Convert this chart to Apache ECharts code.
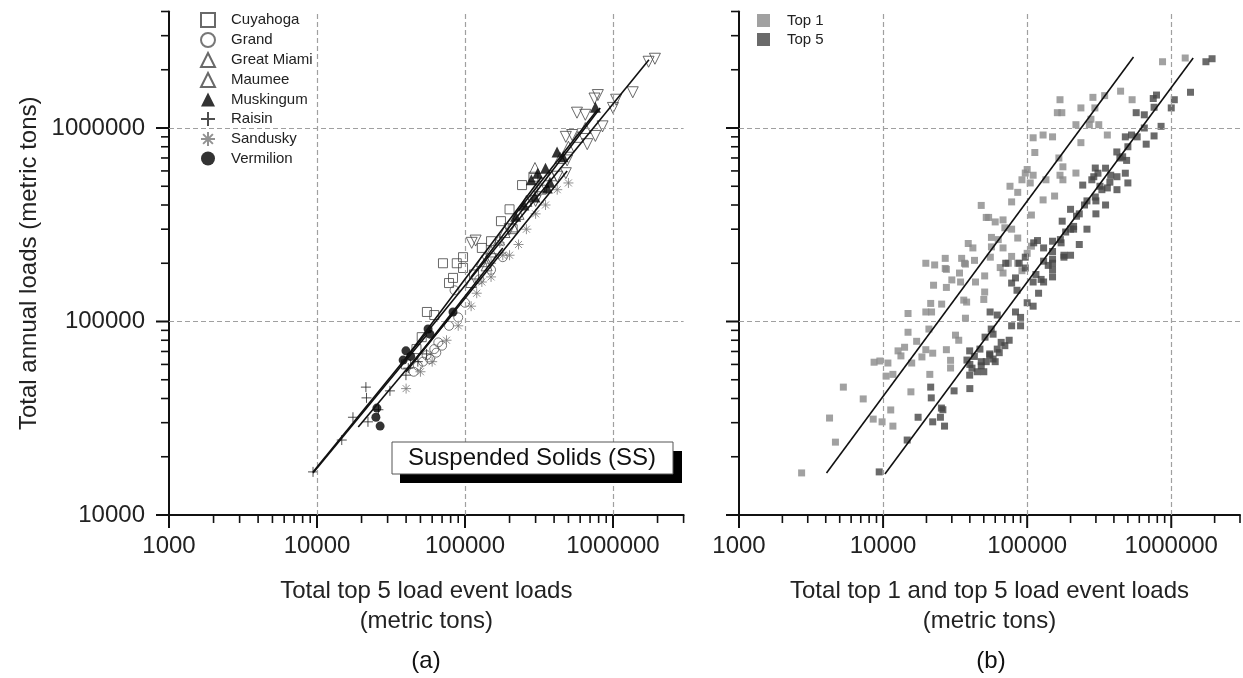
<!DOCTYPE html>
<html><head><meta charset="utf-8">
<script src="https://cdn.jsdelivr.net/npm/echarts@6/dist/echarts.min.js"></script>
<style>html,body{margin:0;padding:0;background:#fff}#c{width:1243px;height:678px}</style>
</head><body><div id="c"></div>
<script>
// ---------- data (x = total top-N event loads, y = total annual loads) ----------
const cuyahoga = [[40000,60000],[47000,72000],[51000,83000],[55300,112000],[62000,108000],[71000,200000],[78000,158000],[83000,168000],[88000,200000],[97000,189000],[97000,215000],[115000,175000],[130000,240000],[150000,260000],[175000,330000],[200000,380000],[243000,507000],[290000,560000],[330000,480000],[210000,300000]];
const grand = [[45000,55000],[48000,59000],[52000,62000],[55000,67000],[58000,64000],[62000,72000],[66000,78000],[70000,75000],[78000,95000],[85000,145000],[90000,105000],[100000,125000],[125000,165000],[150000,185000],[180000,215000],[64000,69000]];
const greatMiami = [[110000,160000],[130000,205000],[150000,230000],[170000,265000],[185000,290000],[210000,310000],[230000,360000],[260000,420000],[297000,621000],[320000,500000],[380000,570000],[440000,700000],[500000,800000],[580000,900000],[650000,1000000],[140000,195000]];
const maumee = [[111000,255000],[118000,262000],[150000,210000],[200000,300000],[300000,420000],[420000,560000],[480000,584000],[490000,680000],[480000,900000],[530000,920000],[571000,1200000],[650000,1170000],[670000,825000],[760000,910000],[850000,1020000],[750000,1420000],[790000,1480000],[1000000,1270000],[1050000,1400000],[1360000,1530000],[1740000,2200000],[1920000,2280000]];
const muskingum = [[220000,350000],[250000,400000],[281000,540000],[297000,440000],[310000,584000],[360000,490000],[375000,525000],[419000,752000],[460000,710000],[760000,1280000],[350000,620000]];
const raisin = [[9400,16700],[14700,24400],[17500,32000],[21400,45800],[21600,40300],[22100,30300],[26000,35000],[31100,43800],[39900,52800],[41400,57400],[48000,62000],[55000,68000]];
const sandusky = [[40000,45000],[50000,55000],[60000,62000],[75000,80000],[90000,95000],[110000,120000],[120000,140000],[130000,160000],[150000,170000],[150000,200000],[172000,255000],[180000,220000],[200000,220000],[230000,250000],[260000,300000],[300000,360000],[350000,400000],[420000,480000],[500000,520000]];
const vermilion = [[25000,32000],[25400,35700],[26700,28800],[38200,63200],[39900,70500],[43000,66000],[56300,91400],[58000,86000],[83000,112000]];

const top1 = [[2720,16500],[4670,23800],[4250,31700],[7280,39800],[5300,45800],[8540,31300],[9840,30300],[11300,34900],[11700,28800],[15600,43300],[10500,52200],[11700,53300],[8660,61600],[9500,62500],[10800,61000],[12700,70500],[14100,73600],[13300,66400],[15800,61000],[18600,65600],[21100,53300],[17100,79000],[14900,88000],[19800,71500],[22100,68600],[20800,91400],[14900,110000],[19800,112000],[21700,112000],[21400,124000],[25500,123000],[22400,154000],[27500,71500],[29400,63000],[31800,85000],[33500,80000],[29400,57500],[27500,150000],[30000,164000],[34500,160000],[38000,126000],[36300,129000],[27000,188000],[33900,178000],[36700,200000],[43100,207000],[43800,160000],[50700,172000],[50700,142000],[50000,130000],[37300,104000],[19800,200000],[22800,196000],[27000,212000],[35100,212000],[37300,198000],[55500,215000],[48000,398000],[52000,345000],[39000,253000],[42000,240000],[27500,186000],[54000,345000],[60000,327000],[56500,272000],[76000,500000],[86000,465000],[78000,415000],[92000,540000],[100000,610000],[105000,520000],[110000,570000],[135000,540000],[129000,425000],[155000,445000],[169000,570000],[177000,540000],[218000,585000],[113000,747000],[110000,890000],[129000,920000],[150000,900000],[162000,1200000],[174000,1200000],[169000,1400000],[236000,840000],[218000,1040000],[236000,1270000],[270000,1040000],[295000,1270000],[286000,1440000],[314000,1040000],[277000,1110000],[345000,1470000],[360000,920000],[445000,1550000],[535000,1400000],[870000,2200000],[1250000,2300000],[166000,700000],[177000,630000],[97000,585000],[107000,355000],[68000,335000],[70000,305000],[78000,300000],[86000,270000],[63000,265000],[56500,243000],[68000,240000],[78000,217000],[74000,200000],[86000,200000],[92000,183000],[65000,190000],[68000,178000],[100000,225000],[107000,245000]];

// fitted lines: [x0, y0, x1, y1]
const fitLinesA = [[9400,16700,1750000,2250000],[19000,28500,85000,112000],[40000,65000,330000,560000],[45000,62000,180000,240000],[110000,170000,820000,1270000],[220000,360000,790000,1250000],[40000,55000,490000,600000],[9400,16500,55000,85000]];
const fitTop1 = [4050,16500,547000,2330000];
const fitTop5 = [10300,16300,1420000,2300000];

// axes
const X_MIN = 1000, X_MAX = 3000000, Y_MIN = 10000, Y_MAX = 4000000;
const xDecades = [1000,10000,100000,1000000];
const yDecades = [10000,100000,1000000];
const minorMultipliers = [2,3,4,5,6,7,8,9];

const FONT = '"Liberation Sans", Arial, Helvetica, sans-serif';

function buildTicks(decades, max){
  const out = [];
  decades.forEach(d => {
    out.push([d,1]);
    minorMultipliers.forEach(m => { if (d*m <= max*1.0001) out.push([d*m,0]); });
  });
  return out;
}
const xTicks = buildTicks(xDecades, X_MAX);
const yTicks = buildTicks(yDecades, Y_MAX);

function powFmt(v){
  const l = Math.log10(v);
  if (Math.abs(l - Math.round(l)) < 1e-6) return String(Math.round(Math.pow(10, Math.round(l))));
  return '';
}

function xAxisDef(g, name){
  return {
    type:'log', logBase:10, gridIndex:g, min:X_MIN, max:X_MAX,
    axisLine:{show:true, onZero:false, lineStyle:{color:'#111', width:2}},
    axisTick:{show:false}, minorTick:{show:false}, splitLine:{show:false}, minorSplitLine:{show:false},
    axisLabel:{fontSize:24, color:'#222', fontFamily:FONT, margin:19, formatter:powFmt, showMinLabel:true, showMaxLabel:true},
    name:name, nameLocation:'middle', nameGap:61,
    nameTextStyle:{fontSize:24, color:'#222', fontFamily:FONT, lineHeight:30}
  };
}
function yAxisDef(g, showLabels){
  return {
    type:'log', logBase:10, gridIndex:g, min:Y_MIN, max:Y_MAX,
    axisLine:{show:true, onZero:false, lineStyle:{color:'#111', width:2}},
    axisTick:{show:false}, minorTick:{show:false}, splitLine:{show:false}, minorSplitLine:{show:false},
    axisLabel:{show:showLabels, fontSize:24, color:'#222', fontFamily:FONT, margin:24, formatter:powFmt},
    name: showLabels ? 'Total annual loads (metric tons)' : '',
    nameLocation:'middle', nameGap:128,
    nameTextStyle:{fontSize:24, color:'#222', fontFamily:FONT}
  };
}

function tickSeries(g){
  return [
    {type:'custom', xAxisIndex:g, yAxisIndex:g, clip:false, silent:true, z:10,
     data: xTicks.map(t => [t[0], Y_MIN, t[1]]), encode:{x:0, y:1},
     renderItem:function(p, api){
       const c = api.coord([api.value(0), api.value(1)]);
       const maj = api.value(2) === 1;
       return {type:'line', shape:{x1:c[0], y1:c[1], x2:c[0], y2:c[1] + (maj ? 13 : 8)},
               style:{stroke:'#111', lineWidth: maj ? 2 : 1.6}};
     }},
    {type:'custom', xAxisIndex:g, yAxisIndex:g, clip:false, silent:true, z:10,
     data: yTicks.map(t => [X_MIN, t[0], t[1]]), encode:{x:0, y:1},
     renderItem:function(p, api){
       const c = api.coord([api.value(0), api.value(1)]);
       const maj = api.value(2) === 1;
       return {type:'line', shape:{x1:c[0], y1:c[1], x2:c[0] - (maj ? 13 : 8), y2:c[1]},
               style:{stroke:'#111', lineWidth: maj ? 2 : 1.6}};
     }}
  ];
}
function gridLineSeries(g){
  return {type:'scatter', name:'grid'+g, xAxisIndex:g, yAxisIndex:g, data:[], z:1, silent:true,
    markLine:{silent:true, symbol:['none','none'], label:{show:false},
      lineStyle:{type:[5,3], color:'#a0a0a0', width:1.2},
      data:[{xAxis:10000},{xAxis:100000},{xAxis:1000000},{yAxis:100000},{yAxis:1000000}]}};
}
function lineSeries(g, seg){
  return {type:'line', xAxisIndex:g, yAxisIndex:g, data:[[seg[0],seg[1]],[seg[2],seg[3]]],
    symbol:'none', silent:true, z:6, lineStyle:{color:'#111', width:1.6}};
}

const openStyle = c => ({color:'rgba(255,255,255,0)', borderColor:c, borderWidth:1});
const riverSeries = [
  {name:'Cuyahoga', data:cuyahoga, symbol:'rect', symbolSize:9, itemStyle:openStyle('#444')},
  {name:'Grand', data:grand, symbol:'circle', symbolSize:9, itemStyle:openStyle('#555')},
  {name:'Great Miami', data:greatMiami, symbol:'triangle', symbolSize:11, itemStyle:openStyle('#444')},
  {name:'Maumee', data:maumee, symbol:'triangle', symbolRotate:180, symbolSize:11, itemStyle:openStyle('#444')},
  {name:'Muskingum', data:muskingum, symbol:'triangle', symbolSize:11, itemStyle:{color:'#000'}},
  {name:'Raisin', data:raisin, symbol:'path://M0,5L10,5M5,0L5,10', symbolSize:10, itemStyle:openStyle('#222')},
  {name:'Sandusky', data:sandusky, symbol:'path://M5,0L5,10M0,5L10,5M1.5,1.5L8.5,8.5M1.5,8.5L8.5,1.5', symbolSize:10, itemStyle:openStyle('#777')},
  {name:'Vermilion', data:vermilion, symbol:'circle', symbolSize:9, itemStyle:{color:'#000'}}
].map(s => Object.assign({type:'scatter', xAxisIndex:0, yAxisIndex:0, z:4, silent:true}, s));

const top5 = [].concat(cuyahoga, grand, greatMiami, maumee, muskingum, raisin, sandusky, vermilion);

const option = {
  animation:false,
  backgroundColor:'#fff',
  textStyle:{fontFamily:FONT},
  grid:[
    {left:169, top:11.5, width:514.6, height:503.5},
    {left:739, top:11.5, width:504, height:503.5}
  ],
  xAxis:[xAxisDef(0, 'Total top 5 load event loads\n(metric tons)'), xAxisDef(1, 'Total top 1 and top 5 load event loads\n(metric tons)')],
  yAxis:[yAxisDef(0, true), yAxisDef(1, false)],
  legend:[
    {data:['Cuyahoga','Grand','Great Miami','Maumee','Muskingum','Raisin','Sandusky','Vermilion'],
     orient:'vertical', left:195, top:7, itemWidth:14, itemHeight:14, itemGap:4, selectedMode:false,
     textStyle:{fontSize:15, color:'#222', fontFamily:FONT, padding:[0,0,0,11]}},
    {data:['Top 1','Top 5'], orient:'vertical', left:752, top:8, itemWidth:13, itemHeight:13, itemGap:4, selectedMode:false,
     textStyle:{fontSize:15, color:'#222', fontFamily:FONT, padding:[0,0,0,12]}}
  ],
  graphic:[
    {type:'rect', shape:{x:400, y:451, width:282, height:32}, style:{fill:'#000'}, z:100},
    {type:'rect', shape:{x:392, y:442, width:281, height:32}, style:{fill:'#fff', stroke:'#555', lineWidth:1}, z:101},
    {type:'text', x:532, y:458, z:102, style:{text:'Suspended Solids (SS)', fontSize:24, fontFamily:FONT, fill:'#111', align:'center', verticalAlign:'middle', textAlign:'center', textVerticalAlign:'middle'}},
    {type:'text', x:426, y:661, z:102, style:{text:'(a)', fontSize:24, fontFamily:FONT, fill:'#111', align:'center', verticalAlign:'middle', textAlign:'center', textVerticalAlign:'middle'}},
    {type:'text', x:991, y:661, z:102, style:{text:'(b)', fontSize:24, fontFamily:FONT, fill:'#111', align:'center', verticalAlign:'middle', textAlign:'center', textVerticalAlign:'middle'}}
  ],
  series:[].concat(
    [gridLineSeries(0)],
    riverSeries,
    fitLinesA.map(seg => lineSeries(0, seg)),
    tickSeries(0),
    [gridLineSeries(1),
     {type:'scatter', name:'Top 1', xAxisIndex:1, yAxisIndex:1, data:top1, symbol:'rect', symbolSize:7, z:3, silent:true, itemStyle:{color:'#8a8a8a'}},
     {type:'scatter', name:'Top 5', xAxisIndex:1, yAxisIndex:1, data:top5, symbol:'rect', symbolSize:7, z:4, silent:true, itemStyle:{color:'#454545'}},
     lineSeries(1, fitTop1), lineSeries(1, fitTop5)],
    tickSeries(1)
  )
};

const chart = echarts.init(document.getElementById('c'));
chart.setOption(option);
</script></body></html>
